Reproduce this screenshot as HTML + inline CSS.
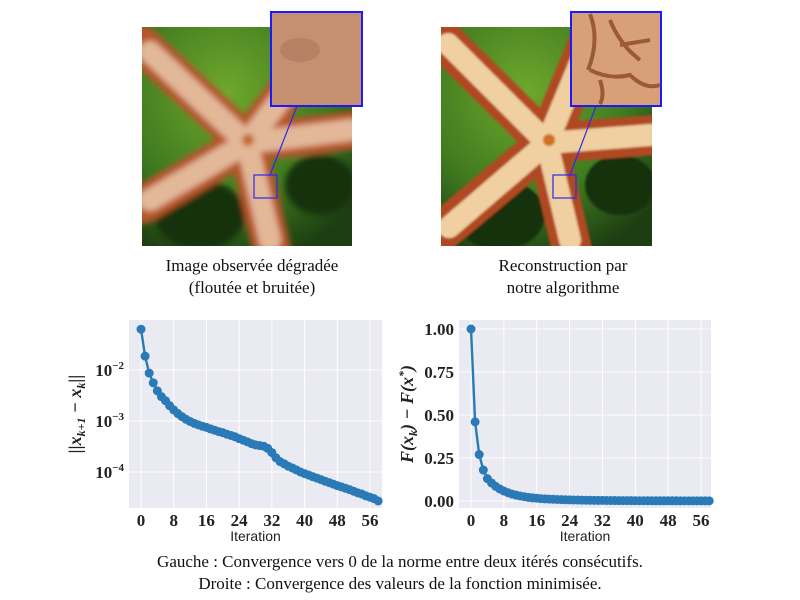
<!DOCTYPE html>
<html><head><meta charset="utf-8"><style>
body{margin:0;background:#fff;width:800px;height:600px;overflow:hidden;font-family:"Liberation Serif",serif}
svg{position:absolute;left:0;top:0}
</style></head><body>
<svg id="s" width="800" height="600" xmlns="http://www.w3.org/2000/svg">
<defs>
<filter id="blur"><feGaussianBlur stdDeviation="3"/></filter>
<filter id="blur2"><feGaussianBlur stdDeviation="1"/></filter>
<clipPath id="c1"><rect x="142" y="27" width="210" height="219"/></clipPath>
<clipPath id="c2"><rect x="441" y="27" width="211" height="219"/></clipPath>
<radialGradient id="g1" cx="0.4" cy="0.3" r="0.8"><stop offset="0" stop-color="#6fa82c"/><stop offset="0.6" stop-color="#3f7a20"/><stop offset="1" stop-color="#1d3d12"/></radialGradient>
</defs>
<g clip-path="url(#c1)">
<rect x="142" y="27" width="210" height="219" fill="url(#g1)"/>
<g filter="url(#blur)">
<ellipse cx="200" cy="215" rx="45" ry="35" fill="#15300d"/>
<ellipse cx="320" cy="185" rx="35" ry="30" fill="#15300d"/>
<g stroke="#b8552c" stroke-width="38" stroke-linecap="round" fill="none">
<line x1="247" y1="143" x2="142" y2="45"/><line x1="247" y1="143" x2="335" y2="27"/><line x1="247" y1="143" x2="355" y2="130"/><line x1="247" y1="143" x2="272" y2="250"/><line x1="247" y1="143" x2="142" y2="205"/></g>
<g stroke="#e2b898" stroke-width="22" stroke-linecap="round" fill="none">
<line x1="247" y1="143" x2="150" y2="52"/><line x1="247" y1="143" x2="330" y2="35"/><line x1="247" y1="143" x2="350" y2="130"/><line x1="247" y1="143" x2="270" y2="240"/><line x1="247" y1="143" x2="150" y2="200"/></g>
<circle cx="248" cy="140" r="6" fill="#c06020"/></g>
</g>
<g clip-path="url(#c2)">
<rect x="441" y="27" width="211" height="219" fill="url(#g1)"/>
<g filter="url(#blur2)">
<ellipse cx="500" cy="215" rx="45" ry="35" fill="#15300d"/>
<ellipse cx="620" cy="185" rx="35" ry="30" fill="#15300d"/>
<g stroke="#b04a22" stroke-width="40" stroke-linecap="round" fill="none">
<line x1="547" y1="143" x2="441" y2="38"/><line x1="547" y1="143" x2="595" y2="27"/><line x1="547" y1="143" x2="655" y2="135"/><line x1="547" y1="143" x2="572" y2="250"/><line x1="547" y1="143" x2="441" y2="232"/></g>
<g stroke="#f0cfa0" stroke-width="22" stroke-linecap="round" fill="none" stroke-dasharray="8 3">
<line x1="547" y1="143" x2="448" y2="44"/><line x1="547" y1="143" x2="592" y2="34"/><line x1="547" y1="143" x2="650" y2="135"/><line x1="547" y1="143" x2="570" y2="240"/><line x1="547" y1="143" x2="448" y2="228"/></g>
<circle cx="549" cy="140" r="6" fill="#d07020"/></g>
</g>
<g>
<rect x="254" y="175" width="23" height="23" fill="none" stroke="#2a2af0" stroke-width="1.2"/>
<line x1="297" y1="106" x2="270" y2="175" stroke="#2a2af0" stroke-width="1.2"/>
<rect x="271" y="12" width="91" height="94" fill="#c49070" stroke="#1a1aff" stroke-width="2"/>
<ellipse cx="300" cy="50" rx="20" ry="12" fill="#a87058" opacity="0.5"/>
<rect x="553" y="175" width="23" height="23" fill="none" stroke="#2a2af0" stroke-width="1.2"/>
<line x1="596" y1="106" x2="570" y2="175" stroke="#2a2af0" stroke-width="1.2"/>
<rect x="571" y="12" width="90" height="94" fill="#d8a078" stroke="#1a1aff" stroke-width="2"/>
<path d="M590 14 Q600 40 588 70 M610 20 Q620 45 640 60 M590 70 Q610 80 630 75 Q645 90 660 85 M600 80 Q605 95 600 104 M620 45 L650 40" stroke="#9a5a35" stroke-width="4" fill="none"/>
</g>
<g font-size="17" text-anchor="middle" fill="#111">
<text x="252" y="271">Image observée dégradée</text>
<text x="252" y="293">(floutée et bruitée)</text>
<text x="563" y="271">Reconstruction par</text>
<text x="563" y="293">notre algorithme</text>
<text x="400" y="567">Gauche : Convergence vers 0 de la norme entre deux itérés consécutifs.</text>
<text x="400" y="589">Droite : Convergence des valeurs de la fonction minimisée.</text>
</g>
<g id="L"></g><g id="R"></g>
</svg>
<script>
const iterations=[...Array(59).keys()];
const normValues=[0.063,0.0187,0.0087,0.0056,0.0039,0.0030,0.0025,0.0020,0.00165,0.0014,0.00122,0.00108,0.00098,0.0009,0.00084,0.00079,0.00075,0.00070,0.00066,0.00062,0.00059,0.00055,0.00052,0.00049,0.00045,0.00042,0.00039,0.00036,0.00034,0.00033,0.00032,0.00029,0.00024,0.00019,0.00016,0.000145,0.00013,0.00012,0.00011,0.0001,0.000093,0.000087,0.000081,0.000076,0.000071,0.000066,0.000062,0.000058,0.000054,0.000051,0.000048,0.000045,0.000042,0.000039,0.000037,0.000034,0.000032,0.00003,0.000027];
const fValues=[1.0,0.46,0.27,0.18,0.13,0.105,0.085,0.07,0.058,0.048,0.04,0.034,0.029,0.025,0.021,0.018,0.016,0.014,0.012,0.011,0.010,0.009,0.008,0.0072,0.0065,0.006,0.0055,0.005,0.0046,0.0042,0.0039,0.0036,0.0033,0.003,0.0028,0.0026,0.0024,0.0022,0.002,0.0019,0.0018,0.0017,0.0016,0.0015,0.0014,0.0013,0.0013,0.0012,0.0012,0.0011,0.0011,0.001,0.001,0.001,0.001,0.001,0.001,0.001,0.001];
const xTicks=[0,8,16,24,32,40,48,56];
const linTicks=[0,0.25,0.5,0.75,1.0];
const linTickLabels=["0.00","0.25","0.50","0.75","1.00"];
const NS="http://www.w3.org/2000/svg";
function mk(p,t,a){const e=document.createElementNS(NS,t);for(const k in a)e.setAttribute(k,a[k]);p.appendChild(e);return e;}
function chart(g,box,x0px,x56px,yfn,vals,yticks,ylabels,ylabelHtml,ylx){
  const xs=v=>x0px+(x56px-x0px)*v/56;
  const bg=mk(g,'rect',{x:box[0],y:box[1],width:box[2]-box[0],height:box[3]-box[1],fill:'#eaeaf2'});
  
  
  xTicks.forEach(t=>{const l=mk(g,'line',{x1:xs(t),x2:xs(t),y1:box[1],y2:box[3],stroke:'#fff','stroke-width':1});
    
    const tx=mk(g,'text',{x:xs(t),y:box[3]+18,'text-anchor':'middle','font-size':17,'font-weight':'bold',fill:'#222'});tx.textContent=t;
    });
  yticks.forEach((t,i)=>{const y=yfn(t);const l=mk(g,'line',{x1:box[0],x2:box[2],y1:y,y2:y,stroke:'#fff','stroke-width':1});
    
    const tx=mk(g,'text',{x:box[0]-5,y:y+6,'text-anchor':'end','font-size':17,'font-weight':'bold',fill:'#222'});tx.innerHTML=ylabels[i];
    });
  const pts=vals.map((v,i)=>[xs(iterations[i]),yfn(v)]);
  const pl=mk(g,'polyline',{points:pts.map(p=>p.join(',')).join(' '),fill:'none',stroke:'#2a7ab8','stroke-width':2.4});
  
  pts.forEach(p=>{const c=mk(g,'circle',{cx:p[0],cy:p[1],r:4.5,fill:'#2a7ab8'});
    });
  const xl=mk(g,'text',{x:(box[0]+box[2])/2,y:box[3]+33,'text-anchor':'middle','font-size':14,'font-family':'Liberation Sans, sans-serif',fill:'#222'});xl.textContent='Iteration';
  
  const cy=(box[1]+box[3])/2;
  const yl=mk(g,'text',{x:ylx,y:cy,'text-anchor':'middle','font-size':18,'font-weight':'bold','font-style':'italic',fill:'#222',transform:`rotate(-90 ${ylx} ${cy})`});yl.innerHTML=ylabelHtml;
  
}
const logY=v=>370-(Math.log10(v)+2)*51;
chart(document.getElementById('L'),[129,320,382,508],141,370,logY,normValues,[0.01,0.001,0.0001],
 ['10<tspan dy="-7" font-size="11">−2</tspan>','10<tspan dy="-7" font-size="11">−3</tspan>','10<tspan dy="-7" font-size="11">−4</tspan>'],
 '||x<tspan dy="4" font-size="12">k+1</tspan><tspan dy="-4"> − x</tspan><tspan dy="4" font-size="12">k</tspan><tspan dy="-4">||</tspan>',81);
const linY=v=>501-v*172;
chart(document.getElementById('R'),[459,320,711,508],471,701,linY,fValues,linTicks,linTickLabels,
 'F(x<tspan dy="4" font-size="12">k</tspan><tspan dy="-4">) − F(x</tspan><tspan dy="-6" font-size="12">*</tspan><tspan dy="6">)</tspan>',413);
</script>
</body></html>
